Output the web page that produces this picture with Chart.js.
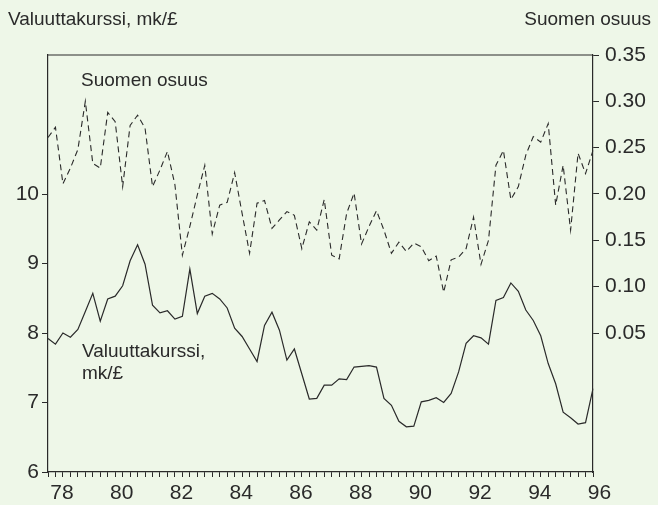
<!DOCTYPE html>
<html>
<head>
<meta charset="utf-8">
<script src="https://cdn.jsdelivr.net/npm/chart.js@4/dist/chart.umd.min.js"></script>
<style>
  html, body { margin: 0; padding: 0; background: #eef7e8; }
  canvas { display: block; }
</style>
</head>
<body>
<canvas id="chart" width="658" height="505"></canvas>
<script>
// Quarterly series, 1978 Q1 .. 1996 Q2

const years = [78, 79, 80, 81, 82, 83, 84, 85, 86, 87, 88, 89, 90, 91, 92, 93, 94, 95, 96];
const yearLabels = [78, 80, 82, 84, 86, 88, 90, 92, 94, 96];

// Valuuttakurssi, mk/£ (left axis)
const exchangeRate = [
    7.92, 7.84, 8.00, 7.94, 8.05, 8.31, 8.57, 8.17, 8.49, 8.53,
    8.68, 9.04, 9.27, 8.99, 8.40, 8.29, 8.32, 8.20, 8.24, 8.92,
    8.28, 8.53, 8.57, 8.49, 8.36, 8.07, 7.95, 7.77, 7.59, 8.11,
    8.30, 8.04, 7.61, 7.77, 7.41, 7.05, 7.06, 7.25, 7.25, 7.34,
    7.33, 7.51, 7.52, 7.53, 7.51, 7.06, 6.96, 6.73, 6.65, 6.66,
    7.01, 7.03, 7.07, 7.00, 7.13, 7.44, 7.85, 7.96, 7.93, 7.84,
    8.47, 8.51, 8.72, 8.60, 8.33, 8.18, 7.96, 7.56, 7.27, 6.86,
    6.78, 6.69, 6.71, 7.20
];

// Suomen osuus (right axis)
const finnishShare = [
    0.261, 0.272, 0.211, 0.228, 0.248, 0.300, 0.233, 0.228, 0.288, 0.278,
    0.208, 0.274, 0.285, 0.271, 0.208, 0.226, 0.246, 0.210, 0.134, 0.165,
    0.199, 0.231, 0.157, 0.188, 0.191, 0.223, 0.179, 0.136, 0.190, 0.193,
    0.163, 0.172, 0.181, 0.177, 0.141, 0.170, 0.161, 0.194, 0.134, 0.130,
    0.179, 0.201, 0.146, 0.165, 0.182, 0.161, 0.136, 0.148, 0.138, 0.147,
    0.143, 0.128, 0.133, 0.094, 0.129, 0.132, 0.141, 0.175, 0.124, 0.150,
    0.231, 0.247, 0.194, 0.208, 0.242, 0.262, 0.256, 0.276, 0.188, 0.231,
    0.161, 0.244, 0.222, 0.247
];

const INK = "#2a2a2a";
const BG = "#eef7e8";
const TICK_FONT = { family: "'Liberation Sans', Arial, sans-serif", size: 21 };

// one category per quarter
const quarters = [];
years.forEach(y => {
    for (let q = 1; q <= 4; q++) quarters.push({ year: y, q });
});
const labels = quarters.slice(0, exchangeRate.length).map(p => `${p.year} Q${p.q}`);

const background = {
    id: "background",
    beforeDraw(chart) {
        const ctx = chart.ctx;
        ctx.save();
        ctx.fillStyle = BG;
        ctx.fillRect(0, 0, chart.width, chart.height);
        ctx.restore();
    }
};

const frameAndText = {
    id: "frameAndText",
    afterDraw(chart) {
        const ctx = chart.ctx;
        const a = chart.chartArea;
        ctx.save();
        ctx.strokeStyle = INK;
        ctx.lineWidth = 1.2;
        ctx.beginPath();
        ctx.moveTo(a.left, a.top);
        ctx.lineTo(a.right, a.top);
        ctx.stroke();

        ctx.fillStyle = INK;
        ctx.font = "19px 'Liberation Sans', Arial, sans-serif";
        ctx.textBaseline = "alphabetic";
        ctx.textAlign = "left";
        ctx.fillText("Valuuttakurssi, mk/£", 8, 25);
        ctx.fillText("Suomen osuus", 81, 86);
        ctx.fillText("Valuuttakurssi,", 82, 357);
        ctx.fillText("mk/£", 82, 379);
        ctx.textAlign = "right";
        ctx.fillText("Suomen osuus", 651, 25);
        ctx.restore();
    }
};

function hiddenTick(test) {
    return c => (c.tick && test(c.tick.value)) ? "rgba(0,0,0,0)" : INK;
}

new Chart(document.getElementById("chart"), {
    type: "line",
    data: {
        labels,
        datasets: [
            {
                label: "Valuuttakurssi, mk/£",
                data: exchangeRate,
                yAxisID: "y",
                borderColor: INK,
                borderWidth: 1.2,
                pointRadius: 0,
                tension: 0,
                fill: false
            },
            {
                label: "Suomen osuus",
                data: finnishShare,
                yAxisID: "y2",
                borderColor: INK,
                borderWidth: 1.1,
                borderDash: [6, 4],
                pointRadius: 0,
                tension: 0,
                fill: false
            }
        ]
    },
    options: {
        responsive: false,
        animation: false,
        layout: { padding: { top: 55, left: 0, right: 0, bottom: 0 } },
        plugins: {
            legend: { display: false },
            tooltip: { enabled: false }
        },
        scales: {
            x: {
                type: "category",
                offset: false,
                afterFit: s => { s.height = 33; },
                grid: { drawOnChartArea: false, tickLength: 5, color: INK },
                border: { color: INK, width: 1.2 },
                ticks: {
                    autoSkip: false,
                    maxRotation: 0,
                    padding: 4,
                    labelOffset: 14,
                    color: INK,
                    font: TICK_FONT,
                    callback: (v, i) => {
                        const p = quarters[i];
                        return (p.q === 1 && yearLabels.includes(p.year)) ? String(p.year) : "";
                    }
                }
            },
            y: {
                position: "left",
                min: 6,
                max: 12,
                afterFit: s => { s.width = 48; },
                grid: { drawOnChartArea: false, tickLength: 6, tickColor: hiddenTick(v => v > 10.5) },
                border: { color: INK, width: 1.2 },
                ticks: {
                    stepSize: 1,
                    padding: 3,
                    color: INK,
                    font: TICK_FONT,
                    callback: v => v <= 10 ? String(v) : ""
                }
            },
            y2: {
                position: "right",
                min: -0.1,
                max: 0.35,
                afterFit: s => { s.width = 65; },
                grid: { drawOnChartArea: false, tickLength: 6, tickColor: hiddenTick(v => v < 0.01) },
                border: { color: INK, width: 1.2 },
                ticks: {
                    stepSize: 0.05,
                    padding: 6,
                    color: INK,
                    font: TICK_FONT,
                    callback: v => v > 0.01 ? v.toFixed(2) : ""
                }
            }
        }
    },
    plugins: [background, frameAndText]
});
</script>
</body>
</html>
